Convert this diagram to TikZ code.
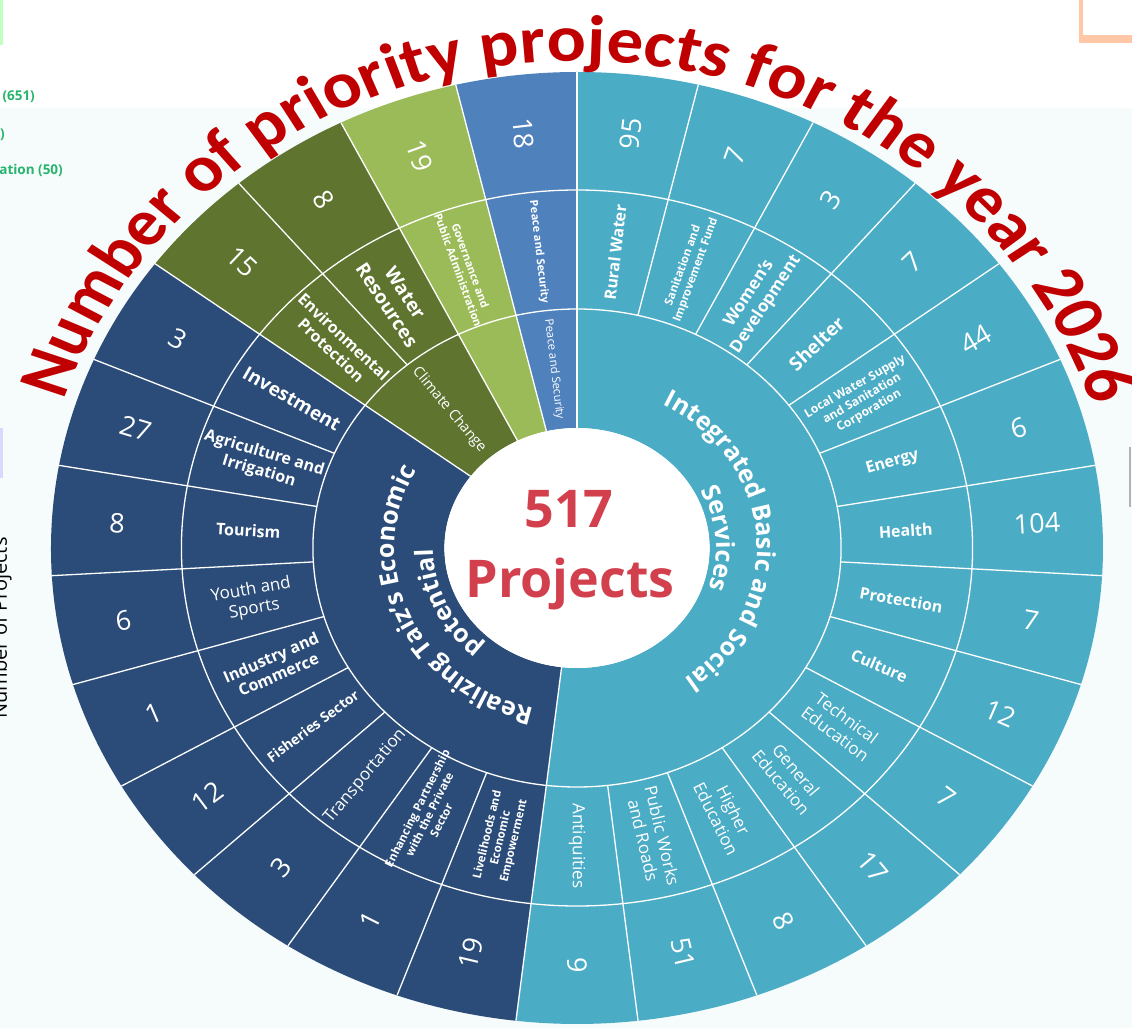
\documentclass[tikz,border=0pt]{standalone}
\usepackage{fontspec}
\setmainfont{Open Sans}
\newfontfamily\ttlfont{Carlito}
\usetikzlibrary{decorations.text}
\definecolor{aqua}{RGB}{75,172,198}
\definecolor{dblue}{RGB}{43,76,120}
\definecolor{olive}{RGB}{94,116,47}
\definecolor{lgreen}{RGB}{155,187,89}
\definecolor{pblue}{RGB}{79,129,189}
\definecolor{ttlred}{RGB}{192,0,0}
\definecolor{ctrred}{RGB}{210,64,78}
\definecolor{bgc}{RGB}{246,251,251}
\definecolor{legreen}{RGB}{40,180,110}
\newcommand{\seglab}[5]{%
  \pgfmathsetmacro\segang{90-13.333333*(#2+0.5)}%
  \pgfmathsetmacro\segrot{(\segang < -90.01) ? (\segang+180) : \segang}%
  \node[#4, rotate=\segrot] (#1) at ({1.105*#3*cos(\segang)},{#3*sin(\segang)}) {#5};}
\tikzset{
  seglabel/.style={text=white, align=center, inner sep=0pt},
  numsty/.style={seglabel, font=\fontsize{27}{30}\selectfont},
  lbsty/.style={seglabel, font=\bfseries\fontsize{19}{22}\selectfont},
  wdsty/.style={seglabel, font=\bfseries\fontsize{17}{20}\selectfont},
  mbsty/.style={seglabel, font=\bfseries\fontsize{16}{18.5}\selectfont},
  rgsty/.style={seglabel, font=\fontsize{17}{19.5}\selectfont},
  fssty/.style={seglabel, font=\bfseries\fontsize{14}{16}\selectfont},
  smsty/.style={seglabel, font=\bfseries\fontsize{11.5}{13.5}\selectfont},
  sssty/.style={seglabel, font=\bfseries\fontsize{11}{13}\selectfont},
  lwsty/.style={seglabel, font=\bfseries\fontsize{12}{14}\selectfont},
  sepl/.style={white, line width=1.3pt},
  legtext/.style={anchor=east, text=legreen, font=\bfseries\fontsize{13.5}{15}\selectfont, inner sep=0pt},
}
\begin{document}
\begin{tikzpicture}[x=1pt,y=1pt]
\useasboundingbox (-577,-480) rectangle (555,548);
\fill[white] (-577,-480) rectangle (555,548);
\fill[bgc] (-577,-480) rectangle (555,440);
% edge artifacts
\fill[green!25!white] (-577,548) rectangle (-574,503);
\fill[blue!15!white] (-577,120) rectangle (-574,70);
\fill[red!25!orange!35!white] (502,548) rectangle (506,505);
\fill[red!25!orange!35!white] (502,513) rectangle (555,505);
\draw[gray!60, line width=2pt] (553,101) -- (553,41);
\node[legtext] (lg1) at (-542,451) {(651)};
\node[legtext] (lg2) at (-572,413) {)};
\node[legtext] (lg3) at (-514,378) {ation (50)};
\node[rotate=90, anchor=base, font=\fontsize{20}{22}\selectfont, inner sep=0pt] (ylab) at (-570,-80) {Number of Projects};
% sectors
\begin{scope}[xscale=1.105]
\fill[aqua] (90:476) arc[start angle=90, end angle=-96.66667, radius=476] -- (-96.66667:120) arc[start angle=-96.66667, end angle=90, radius=120] -- cycle;
\fill[dblue] (-96.66667:476) arc[start angle=-96.66667, end angle=-216.66667, radius=476] -- (-216.66667:120) arc[start angle=-216.66667, end angle=-96.66667, radius=120] -- cycle;
\fill[olive] (143.33333:476) arc[start angle=143.33333, end angle=116.66667, radius=476] -- (116.66667:120) arc[start angle=116.66667, end angle=143.33333, radius=120] -- cycle;
\fill[lgreen] (116.66667:476) arc[start angle=116.66667, end angle=103.33333, radius=476] -- (103.33333:120) arc[start angle=103.33333, end angle=116.66667, radius=120] -- cycle;
\fill[pblue] (103.33333:476) arc[start angle=103.33333, end angle=90, radius=476] -- (90:120) arc[start angle=90, end angle=103.33333, radius=120] -- cycle;
\fill[white] (0,0) circle[radius=120];
\foreach \k in {0,...,26} \draw[sepl] ({90-13.333333*\k}:239) -- ({90-13.333333*\k}:476);
\foreach \a in {90,103.33333,116.66667,143.33333,263.33333} \draw[sepl] (\a:120) -- (\a:239);
\draw[sepl] (0,0) circle[radius=239];
\draw[sepl] (0,0) circle[radius=358];
\end{scope}
% segment labels
\foreach \i/\n/\t/\s in {
 0/95/{Rural Water}/mbsty,
 1/7/{Sanitation and\\Improvement Fund}/smsty,
 2/3/{Women’s\\Development}/wdsty,
 3/7/{Shelter}/lbsty,
 4/44/{Local Water Supply\\and Sanitation\\Corporation}/lwsty,
 5/6/{Energy}/mbsty,
 6/104/{Health}/mbsty,
 7/7/{Protection}/mbsty,
 8/12/{Culture}/mbsty,
 9/7/{Technical\\Education}/rgsty,
 10/17/{General\\Education}/rgsty,
 11/8/{Higher\\Education}/rgsty,
 12/51/{Public Works\\and Roads}/rgsty,
 13/9/{Antiquities}/rgsty,
 14/19/{Livelihoods and\\Economic\\Empowerment}/smsty,
 15/1/{Enhancing Partnership\\with the Private\\Sector}/smsty,
 16/3/{Transportation}/rgsty,
 17/12/{Fisheries Sector}/fssty,
 18/1/{Industry and\\Commerce}/mbsty,
 19/6/{Youth and\\Sports}/rgsty,
 20/8/{Tourism}/mbsty,
 21/27/{Agriculture and\\Irrigation}/mbsty,
 22/3/{Investment}/lbsty,
 23/15/{Environmental\\Protection}/mbsty,
 24/8/{Water\\Resources}/lbsty,
 25/19/{Governance and\\Public Administration}/sssty,
 26/18/{Peace and Security}/sssty}{
  \seglab{o\i}{\i}{417}{numsty}{\n}
  \seglab{m\i}{\i}{298}{\s}{\t}
}
% inner ring small labels
\node[seglabel, font=\fontsize{11.5}{13}\selectfont, rotate=-83.33] (ipeace) at ({1.105*180*cos(96.67)},{180*sin(96.67)}) {Peace and Security};
\node[seglabel, font=\fontsize{14.5}{16}\selectfont, rotate=-50] (iclim) at ({1.105*180*cos(130)},{180*sin(130)}) {Climate Change};
% curved main labels
\path[decorate, decoration={text along path, text={|\bfseries\fontsize{25}{30}\selectfont|Integrated Basic and Social}, text color=white, text align=center}]
  ({1.105*163*cos(94)},{163*sin(94)}) arc[start angle=94, end angle=-86, x radius=180.115, y radius=163];
\path[decorate, decoration={text along path, text={|\bfseries\fontsize{25}{30}\selectfont|Services}, text color=white, text align=center}]
  ({1.105*126*cos(94)},{126*sin(94)}) arc[start angle=94, end angle=-86, x radius=139.23, y radius=126];
\path[decorate, decoration={text along path, text={|\bfseries\fontsize{25}{30}\selectfont|Realizing Taiz’s Economic}, text color=white, text align=center}]
  ({1.105*165*cos(283.33)},{165*sin(283.33)}) arc[start angle=283.33, end angle=123.33, x radius=182.325, y radius=165];
\path[decorate, decoration={text along path, text={|\bfseries\fontsize{25}{30}\selectfont|potential}, text color=white, text align=center}]
  ({1.105*130*cos(283.33)},{130*sin(283.33)}) arc[start angle=283.33, end angle=123.33, x radius=143.65, y radius=130];
% centre
\node[anchor=base, text=ctrred, font=\bfseries\fontsize{52}{60}\selectfont, inner sep=0pt] (c1) at (-8,21) {517};
\node[anchor=base, text=ctrred, font=\bfseries\fontsize{52}{60}\selectfont, inner sep=0pt] (c2) at (-7,-49) {Projects};
% title (drawn round, then stretched like the chart)
\begin{scope}[transform canvas={xscale=1.105}]
\path[decorate, decoration={text along path, text={|\ttlfont\bfseries\fontsize{66}{76}\selectfont|Number of priority projects for the year 2026}, text color=ttlred, text align=center}]
  (179.7:487) arc[start angle=179.7, end angle=-0.3, radius=487];
\end{scope}
\end{tikzpicture}
\end{document}
